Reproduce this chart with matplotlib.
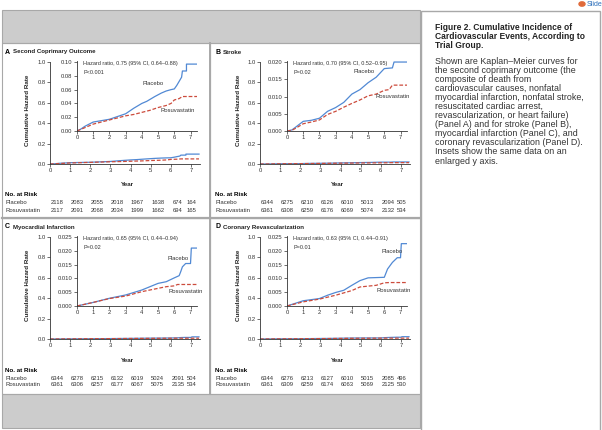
import matplotlib
matplotlib.use('Agg')
import matplotlib.pyplot as plt
from matplotlib.patches import Rectangle
from matplotlib.transforms import blended_transform_factory
import numpy as np

plt.rcParams['font.family'] = ['Liberation Sans Narrow', 'Liberation Sans', 'DejaVu Sans']

# --- data ---
years = [0, 1, 2, 3, 4, 5, 6, 7]

# Panel A: second coprimary outcome
a_pl_t = [0, 0.25, 0.5, 1.0, 1.5, 2.0, 2.5, 3.0, 3.5, 4.0, 4.3, 4.8, 5.2, 5.5, 5.8, 6.0, 6.15, 6.3, 6.45, 6.5, 6.75, 6.75, 7.4]
a_pl_y = [0, 0.003, 0.007, 0.013, 0.015, 0.017, 0.021, 0.025, 0.033, 0.040, 0.043, 0.050, 0.055, 0.058, 0.060, 0.061, 0.066, 0.072, 0.078, 0.087, 0.087, 0.097, 0.097]
a_ro_t = [0, 0.5, 1.0, 1.5, 2.0, 2.5, 3.0, 3.5, 4.0, 4.5, 5.0, 5.5, 5.8, 6.0, 6.3, 6.5, 7.4]
a_ro_y = [0, 0.005, 0.010, 0.013, 0.016, 0.019, 0.022, 0.024, 0.027, 0.030, 0.034, 0.037, 0.040, 0.045, 0.047, 0.050, 0.050]
a_risk_pl = [2118, 2083, 2055, 2018, 1967, 1638, 674, 164]
a_risk_ro = [2117, 2091, 2068, 2034, 1999, 1662, 694, 165]

# Panel B: stroke
b_pl_t = [0, 0.3, 0.5, 1.0, 1.5, 2.0, 2.5, 3.0, 3.5, 4.0, 4.5, 5.0, 5.5, 6.0, 6.5, 6.6, 7.4]
b_pl_y = [0, 0.0003, 0.001, 0.0028, 0.0031, 0.0037, 0.0057, 0.0068, 0.0083, 0.0107, 0.012, 0.014, 0.0156, 0.0181, 0.0183, 0.0200, 0.0200]
b_ro_t = [0, 0.3, 0.5, 1.0, 1.5, 2.0, 2.5, 3.0, 3.5, 4.0, 4.5, 5.0, 5.5, 6.0, 6.3, 6.5, 7.4]
b_ro_y = [0, 0.0002, 0.0007, 0.0021, 0.0026, 0.0032, 0.0048, 0.0057, 0.0069, 0.0080, 0.0090, 0.0102, 0.0107, 0.0118, 0.0120, 0.0133, 0.0133]
b_risk_pl = [6344, 6275, 6210, 6126, 6010, 5013, 2094, 505]
b_risk_ro = [6361, 6308, 6259, 6176, 6069, 5074, 2132, 534]

# Panel C: myocardial infarction
c_pl_t = [0, 1.0, 2.0, 2.5, 3.0, 4.0, 4.5, 5.0, 5.5, 6.0, 6.3, 6.4, 6.5, 6.7, 7.0, 7.05, 7.4]
c_pl_y = [0, 0.0013, 0.0028, 0.0034, 0.0040, 0.0058, 0.0070, 0.0082, 0.0088, 0.0102, 0.0110, 0.0125, 0.0142, 0.0154, 0.0154, 0.0210, 0.0210]
c_ro_t = [0, 1.0, 2.0, 3.0, 4.0, 5.0, 5.5, 6.0, 6.2, 7.4]
c_ro_y = [0, 0.0013, 0.0027, 0.0036, 0.0052, 0.0064, 0.0070, 0.0073, 0.0078, 0.0078]
c_risk_pl = [6344, 6278, 6215, 6132, 6019, 5024, 2091, 504]
c_risk_ro = [6361, 6306, 6257, 6177, 6067, 5075, 2135, 534]

# Panel D: coronary revascularization
d_pl_t = [0, 1.0, 2.0, 2.5, 3.0, 3.5, 4.0, 4.5, 5.0, 6.0, 6.2, 6.5, 6.8, 7.0, 7.05, 7.4]
d_pl_y = [0, 0.0019, 0.0027, 0.0039, 0.0049, 0.0057, 0.0075, 0.0092, 0.0102, 0.0104, 0.0134, 0.0158, 0.0175, 0.0175, 0.0226, 0.0226]
d_ro_t = [0, 1.0, 2.0, 3.0, 4.0, 4.5, 5.0, 5.5, 6.0, 6.3, 7.4]
d_ro_y = [0, 0.0015, 0.0025, 0.0039, 0.0056, 0.0069, 0.0072, 0.0075, 0.0084, 0.0085, 0.0085]
d_risk_pl = [6344, 6276, 6213, 6127, 6010, 5015, 2085, 496]
d_risk_ro = [6361, 6309, 6259, 6174, 6063, 5069, 2125, 530]

caption_title = ["Figure 2. Cumulative Incidence of",
                 "Cardiovascular Events, According to",
                 "Trial Group."]
caption_body = ["Shown are Kaplan\u2013Meier curves for",
                "the second coprimary outcome (the",
                "composite of death from",
                "cardiovascular causes, nonfatal",
                "myocardial infarction, nonfatal stroke,",
                "resuscitated cardiac arrest,",
                "revascularization, or heart failure)",
                "(Panel A) and for stroke (Panel B),",
                "myocardial infarction (Panel C), and",
                "coronary revascularization (Panel D).",
                "Insets show the same data on an",
                "enlarged y axis."]

BLUE = '#5189d4'
RED = '#cc4b3c'
W, H = 602, 430

fig = plt.figure(figsize=(6.02, 4.30), dpi=100)


def fx(x):
    return x / W


def fy(y):
    return 1 - y / H


def add_ax(left, top, right, bottom):
    return fig.add_axes([fx(left), fy(bottom), (right - left) / W, (bottom - top) / H])


def box(x0, y0, x1, y1, face='none', edge='#a8a8a8', lw=0.8):
    fig.add_artist(Rectangle((fx(x0), fy(y1)), (x1 - x0) / W, (y1 - y0) / H,
                             transform=fig.transFigure, facecolor=face,
                             edgecolor=edge, linewidth=lw))


def style_axis(ax, fs=4.2):
    for s in ['top', 'right']:
        ax.spines[s].set_visible(False)
    for s in ['left', 'bottom']:
        ax.spines[s].set_linewidth(0.6)
        ax.spines[s].set_color('#333333')
    ax.tick_params(labelsize=fs, length=2, width=0.5, pad=1.2, colors='#333333')
    ax.patch.set_alpha(0)


# background bands and frames
box(2, 10, 420, 43, face='#cccccc')
box(2, 394, 420, 428, face='#cccccc')
box(421, 11, 600, 431, face='white', edge='#a8a8a8', lw=1.0)
box(2, 43, 210, 218)
box(210, 43, 420, 218)
box(2, 218, 210, 394)
box(210, 218, 420, 394)
fig.add_artist(plt.Line2D([fx(2), fx(420)], [fy(218), fy(218)], transform=fig.transFigure,
                          color='#a8a8a8', linewidth=1.6))
fig.add_artist(plt.Line2D([fx(210), fx(210)], [fy(43), fy(394)], transform=fig.transFigure,
                          color='#a8a8a8', linewidth=1.4))


def panel(ox, oy, letter, title, pl_t, pl_y, ro_t, ro_y, ymax, ystep, yfmt,
          hr, pval, pl_xy, ro_xy, risk_pl, risk_ro):
    fig.text(fx(ox + 5), fy(oy + 52), letter, fontsize=5.0, weight='bold', va='center')
    fig.text(fx(ox + 13), fy(oy + 52), title, fontsize=4.4, weight='bold', va='center',
             color='#222222')

    ax = add_ax(ox + 50, oy + 62, ox + 200, oy + 164)
    ax.plot(pl_t, pl_y, color=BLUE, lw=0.9)
    ax.plot(ro_t, ro_y, color=RED, lw=0.9, ls=(0, (3, 1.5)))
    ax.set_xlim(0, 7.45)
    ax.set_ylim(0, 1.0)
    ax.set_xticks(years)
    ax.set_yticks(np.arange(0, 1.01, 0.2))
    ax.set_yticklabels(['%.1f' % v for v in np.arange(0, 1.01, 0.2)])
    style_axis(ax)

    fig.text(fx(ox + 28), fy(oy + 110), 'Cumulative Hazard Rate', rotation=90,
             fontsize=4.5, weight='bold', ha='center', va='center', color='#222222')
    fig.text(fx(ox + 127), fy(oy + 185), 'Year', fontsize=4.5, weight='bold',
             ha='center', va='center', color='#222222')

    ins = add_ax(ox + 77, oy + 61, ox + 197, oy + 131)
    ins.plot(pl_t, pl_y, color=BLUE, lw=0.9)
    ins.plot(ro_t, ro_y, color=RED, lw=0.9, ls=(0, (3, 1.5)))
    ins.set_xlim(0, 7.4)
    ins.set_ylim(0, ymax * 1.015)
    ins.set_xticks(years)
    yt = np.arange(0, ymax + ystep / 2, ystep)
    ins.set_yticks(yt)
    ins.set_yticklabels([yfmt % v for v in yt])
    style_axis(ins)
    ins.text(0.05, 1.0, hr, transform=ins.transAxes, fontsize=4.0, va='top', color='#333333')
    ins.text(0.05, 0.87, pval, transform=ins.transAxes, fontsize=4.0, va='top', color='#333333')
    ins.text(pl_xy[0], pl_xy[1], 'Placebo', fontsize=4.2, ha='center', va='center', color='#333333')
    ins.text(ro_xy[0], ro_xy[1], 'Rosuvastatin', fontsize=4.2, ha='center', va='center', color='#333333')

    # numbers at risk
    tr = blended_transform_factory(ax.transData, fig.transFigure)
    fig.text(fx(ox + 5), fy(oy + 195), 'No. at Risk', fontsize=4.5, weight='bold', va='center')
    fig.text(fx(ox + 5), fy(oy + 203), 'Placebo', fontsize=4.3, va='center', color='#333333')
    fig.text(fx(ox + 5), fy(oy + 210), 'Rosuvastatin', fontsize=4.3, va='center', color='#333333')
    cols = np.array(years, dtype=float) + 0.35
    cols[-1] = 7.05
    for cx, n1, n2 in zip(cols, risk_pl, risk_ro):
        ax.text(cx, fy(oy + 203), str(n1), transform=tr, fontsize=4.2, ha='center',
                va='center', color='#333333')
        ax.text(cx, fy(oy + 210), str(n2), transform=tr, fontsize=4.2, ha='center',
                va='center', color='#333333')


panel(0, 0, 'A', 'Second Coprimary Outcome', a_pl_t, a_pl_y, a_ro_t, a_ro_y,
      0.10, 0.02, '%.2f', 'Hazard ratio, 0.75 (95% CI, 0.64\u20130.88)', 'P<0.001',
      (4.7, 0.069), (6.2, 0.029), a_risk_pl, a_risk_ro)
panel(210, 0, 'B', 'Stroke', b_pl_t, b_pl_y, b_ro_t, b_ro_y,
      0.020, 0.005, '%.3f', 'Hazard ratio, 0.70 (95% CI, 0.52\u20130.95)', 'P=0.02',
      (4.75, 0.0172), (6.5, 0.0099), b_risk_pl, b_risk_ro)
panel(0, 175, 'C', 'Myocardial Infarction', c_pl_t, c_pl_y, c_ro_t, c_ro_y,
      0.025, 0.005, '%.3f', 'Hazard ratio, 0.65 (95% CI, 0.44\u20130.94)', 'P=0.02',
      (6.25, 0.0174), (6.7, 0.0052), c_risk_pl, c_risk_ro)
panel(210, 175, 'D', 'Coronary Revascularization', d_pl_t, d_pl_y, d_ro_t, d_ro_y,
      0.025, 0.005, '%.3f', 'Hazard ratio, 0.63 (95% CI, 0.44\u20130.91)', 'P=0.01',
      (6.45, 0.0196), (6.55, 0.0055), d_risk_pl, d_risk_ro)

# caption box on the right
for i, line in enumerate(caption_title):
    fig.text(fx(435), fy(27 + i * 9.2), line, fontsize=6.15, weight='bold', va='center',
             family='Liberation Sans', color='#222222')
for i, line in enumerate(caption_body):
    fig.text(fx(435), fy(61 + i * 9.1), line, fontsize=6.4, va='center',
             family='Liberation Sans', color='#333333')

fig.text(fx(587), fy(4), 'Slide', fontsize=5.0, color='#2a6ebb', va='center',
         family='Liberation Sans')
fig.add_artist(plt.Circle((fx(582), fy(4)), 0.005, transform=fig.transFigure,
                          color='#e06a3a'))

fig.savefig('out.png', dpi=100)
